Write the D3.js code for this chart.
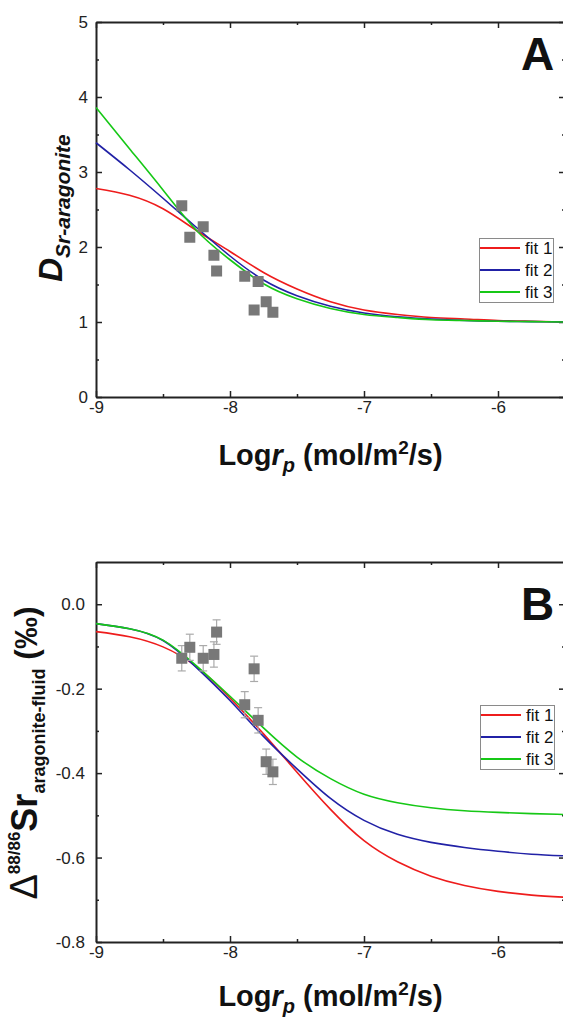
<!DOCTYPE html>
<html>
<head>
<meta charset="utf-8">
<script src="https://cdn.jsdelivr.net/npm/d3@7"></script>
<style>
body { margin: 0; background: #fff; }
svg { display: block; font-family: 'Liberation Sans', Arial, sans-serif; }
</style>
</head>
<body>
<svg></svg>
<script>
let fitNames = ['fit 1', 'fit 2', 'fit 3']
let fitColors = ['#ee1c1c', '#2121a6', '#16c816']

let fitLogr = [-9, -8.75, -8.5, -8.25, -8, -7.75, -7.5, -7.25, -7, -6.75, -6.5, -6.25, -6, -5.75, -5.5]
let fit1A = [2.78, 2.69, 2.51, 2.22, 1.94, 1.66, 1.44, 1.27, 1.16, 1.10, 1.06, 1.04, 1.02, 1.01, 1.00]
let fit2A = [3.39, 3.03, 2.65, 2.26, 1.88, 1.56, 1.35, 1.21, 1.12, 1.07, 1.04, 1.02, 1.01, 1.005, 1.00]
let fit3A = [3.86, 3.31, 2.76, 2.22, 1.83, 1.51, 1.31, 1.18, 1.10, 1.06, 1.03, 1.02, 1.01, 1.005, 1.00]
let fit1B = [-0.065, -0.077, -0.101, -0.148, -0.222, -0.307, -0.398, -0.486, -0.560, -0.610, -0.644, -0.666, -0.680, -0.689, -0.694]
let fit2B = [-0.046, -0.058, -0.086, -0.150, -0.228, -0.313, -0.390, -0.460, -0.512, -0.545, -0.564, -0.576, -0.585, -0.592, -0.596]
let fit3B = [-0.046, -0.058, -0.085, -0.146, -0.218, -0.293, -0.362, -0.413, -0.450, -0.470, -0.482, -0.489, -0.493, -0.496, -0.498]

let logr = [-8.36, -8.30, -8.20, -8.12, -8.10, -7.89, -7.82, -7.79, -7.73, -7.68]
let dSr = [2.55, 2.13, 2.27, 1.89, 1.68, 1.61, 1.16, 1.54, 1.27, 1.13]
let delta = [-0.128, -0.102, -0.128, -0.119, -0.066, -0.238, -0.153, -0.275, -0.373, -0.397]
let deltaErr = [0.03, 0.031, 0.03, 0.03, 0.029, 0.031, 0.03, 0.03, 0.03, 0.03]

let xTicks = [-9, -8, -7, -6]
let xMinor = [-8.5, -7.5, -6.5]
let yTicksA = [0, 1, 2, 3, 4, 5]
let yMinorA = [0.5, 1.5, 2.5, 3.5, 4.5]
let yTicksB = [-0.8, -0.6, -0.4, -0.2, 0]
let yMinorB = [-0.7, -0.5, -0.3, -0.1]

let width = 563
let height = 1022
let left = 96
let right = 565
let font = "'Liberation Sans', Arial, sans-serif"
let axisColor = '#222'

let svg = d3.select('svg').attr('width', width).attr('height', height)

let xScale = d3.scaleLinear().domain([-9, -5.5]).range([left, right])
let yScaleA = d3.scaleLinear().domain([0, 5]).range([397, 22])
let yScaleB = d3.scaleLinear().domain([-0.8, 0.1]).range([942, 562])

let drawAxes = (yScale, yTicks, yMinor, yFormat, yPad) => {
    let bottom = yScale.range()[0]
    let top = yScale.range()[1]
    let g = svg.append('g')
    let add = (axis, tr, keepDomain) => {
        let a = g.append('g').attr('transform', tr).call(axis)
        if (!keepDomain) a.select('.domain').remove()
        return a
    }
    add(d3.axisBottom(xScale).tickValues(xTicks).tickSizeInner(-6).tickSizeOuter(0).tickPadding(4).tickFormat(d => String(d)), 'translate(0,' + bottom + ')', true)
    add(d3.axisBottom(xScale).tickValues(xMinor).tickSize(-3).tickFormat(''), 'translate(0,' + bottom + ')')
    add(d3.axisTop(xScale).tickValues(xTicks).tickSizeInner(-6).tickSizeOuter(0).tickFormat(''), 'translate(0,' + top + ')', true)
    add(d3.axisTop(xScale).tickValues(xMinor).tickSize(-3).tickFormat(''), 'translate(0,' + top + ')')
    add(d3.axisLeft(yScale).tickValues(yTicks).tickSizeInner(-6).tickSizeOuter(0).tickPadding(yPad).tickFormat(yFormat), 'translate(' + left + ',0)', true)
    add(d3.axisLeft(yScale).tickValues(yMinor).tickSize(-3).tickFormat(''), 'translate(' + left + ',0)')
    add(d3.axisRight(yScale).tickValues(yTicks).tickSizeInner(-6).tickSizeOuter(0).tickFormat(''), 'translate(' + right + ',0)', true)
    add(d3.axisRight(yScale).tickValues(yMinor).tickSize(-3).tickFormat(''), 'translate(' + right + ',0)')

    g.selectAll('.domain').attr('stroke', axisColor).attr('stroke-width', 2)
    g.selectAll('.tick line').attr('stroke', axisColor).attr('stroke-width', 1.5)
    g.selectAll('.tick text')
        .attr('font-family', font)
        .attr('font-size', 17)
        .attr('fill', axisColor)
}

let drawFits = (yScale, series) => {
    let line = d3.line()
        .x(d => xScale(d[0]))
        .y(d => yScale(d[1]))
        .curve(d3.curveNatural)
    series.forEach((vals, i) => {
        svg.append('path')
            .datum(fitLogr.map((x, j) => [x, vals[j]]))
            .attr('d', line)
            .attr('fill', 'none')
            .attr('stroke', fitColors[i])
            .attr('stroke-width', 1.6)
    })
}

let drawPoints = (yScale, vals, errs) => {
    let pts = logr.map((x, i) => ({ x: x, y: vals[i], e: errs ? errs[i] : 0 }))
    if (errs) {
        let eb = svg.append('g').attr('stroke', '#aaa').attr('stroke-width', 1.2)
        pts.forEach(p => {
            let cx = xScale(p.x)
            eb.append('line').attr('x1', cx).attr('x2', cx).attr('y1', yScale(p.y + p.e)).attr('y2', yScale(p.y - p.e))
            eb.append('line').attr('x1', cx - 4).attr('x2', cx + 4).attr('y1', yScale(p.y + p.e)).attr('y2', yScale(p.y + p.e))
            eb.append('line').attr('x1', cx - 4).attr('x2', cx + 4).attr('y1', yScale(p.y - p.e)).attr('y2', yScale(p.y - p.e))
        })
    }
    svg.append('g').selectAll('rect')
        .data(pts)
        .enter()
        .append('rect')
        .attr('x', d => xScale(d.x) - 5.5)
        .attr('y', d => yScale(d.y) - 5.5)
        .attr('width', 11)
        .attr('height', 11)
        .attr('fill', '#787878')
}

let drawLegend = (x, y) => {
    let g = svg.append('g').attr('transform', 'translate(' + x + ',' + y + ')')
    g.append('rect')
        .attr('x', 0.5).attr('y', 0.5)
        .attr('width', 74).attr('height', 64)
        .attr('fill', '#fff')
        .attr('stroke', '#8a8a8a')
        .attr('stroke-width', 1)
    fitNames.forEach((name, i) => {
        let ly = 10 + i * 22
        g.append('line')
            .attr('x1', 1).attr('x2', 41)
            .attr('y1', ly).attr('y2', ly)
            .attr('stroke', fitColors[i])
            .attr('stroke-width', 1.8)
        g.append('text')
            .attr('x', 46).attr('y', ly + 6)
            .attr('font-size', 17)
            .attr('fill', '#111')
            .text(name)
    })
}

let drawXTitle = (y) => {
    let t = svg.append('text')
        .attr('x', (left + right) / 2)
        .attr('y', y)
        .attr('text-anchor', 'middle')
        .attr('font-weight', 'bold')
        .attr('font-size', 29)
        .attr('fill', '#111')
    t.append('tspan').text('Log')
    t.append('tspan').attr('font-style', 'italic').text('r')
    t.append('tspan').attr('font-style', 'italic').attr('font-size', 20).attr('dy', 7).text('p')
    t.append('tspan').attr('dy', -7).text(' (mol/m')
    t.append('tspan').attr('font-size', 19).attr('dy', -11).text('2')
    t.append('tspan').attr('dy', 11).text('/s)')
}

let drawPanelLetter = (label, y) => {
    svg.append('text')
        .attr('x', 521)
        .attr('y', y)
        .attr('font-weight', 'bold')
        .attr('font-size', 46)
        .attr('fill', '#111')
        .text(label)
}

// panel A
drawAxes(yScaleA, yTicksA, yMinorA, d => String(d), 8)
drawFits(yScaleA, [fit1A, fit2A, fit3A])
drawPoints(yScaleA, dSr)
drawLegend(479, 238)
drawXTitle(465)
drawPanelLetter('A', 70)

let titleA = svg.append('text')
    .attr('transform', 'translate(62,208) rotate(-90)')
    .attr('text-anchor', 'middle')
    .attr('font-weight', 'bold')
    .attr('font-style', 'italic')
    .attr('fill', '#111')
titleA.append('tspan').attr('font-size', 33).text('D')
titleA.append('tspan').attr('font-size', 21).attr('dy', 8).text('Sr-aragonite')

// panel B
drawAxes(yScaleB, yTicksB, yMinorB, d => d.toFixed(1), 11)
drawFits(yScaleB, [fit1B, fit2B, fit3B])
drawPoints(yScaleB, delta, deltaErr)
drawLegend(480, 705)
drawXTitle(1006)
drawPanelLetter('B', 620)

let titleB = svg.append('text')
    .attr('transform', 'translate(37,753) rotate(-90)')
    .attr('text-anchor', 'middle')
    .attr('font-weight', 'bold')
    .attr('fill', '#111')
titleB.append('tspan').attr('font-size', 38).attr('font-weight', 'normal').text('Δ')
titleB.append('tspan').attr('font-size', 17).attr('dy', -17).text('88/86')
titleB.append('tspan').attr('font-size', 36).attr('dy', 17).text('Sr')
titleB.append('tspan').attr('font-size', 18).attr('dy', 8).text('aragonite-fluid')
titleB.append('tspan').attr('font-size', 32).attr('dy', -8).text(' (‰)')
</script>
</body>
</html>
